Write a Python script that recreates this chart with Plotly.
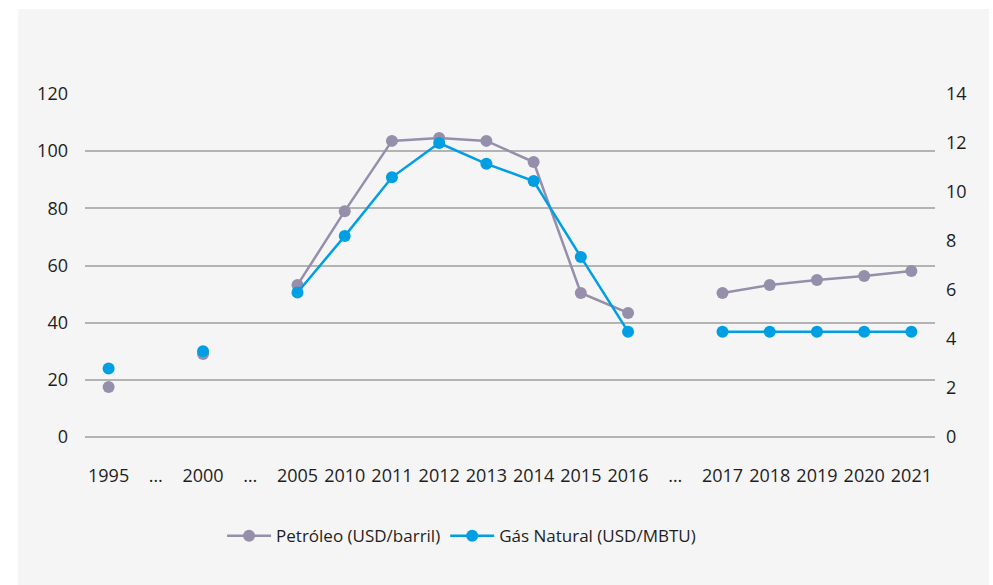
import plotly.graph_objects as go

categories = ["1995", "…", "2000", "…", "2005", "2010", "2011", "2012", "2013",
              "2014", "2015", "2016", "…", "2017", "2018", "2019", "2020", "2021"]
petroleo = [17.5, None, 29, None, 53.2, 79, 103.6, 104.6, 103.6, 96.2, 50.4, 43.4,
            None, 50.4, 53.2, 54.9, 56.3, 58.1]
gas = [2.8, None, 3.5, None, 5.9, 8.2, 10.6, 12.0, 11.15, 10.45, 7.35, 4.3,
       None, 4.3, 4.3, 4.3, 4.3, 4.3]
left_ticks = [0, 20, 40, 60, 80, 100, 120]
right_ticks = [0, 2, 4, 6, 8, 10, 12, 14]

x_pos = list(range(len(categories)))
FONT = "Open Sans"
TXT = "#1e1e1e"

fig = go.Figure()
fig.add_trace(go.Scatter(
    x=x_pos, y=petroleo, name="Petróleo (USD/barril)", mode="lines+markers",
    line=dict(color="#958fac", width=2.5), marker=dict(size=12, color="#958fac"),
    connectgaps=False, yaxis="y"))
fig.add_trace(go.Scatter(
    x=x_pos, y=gas, name="Gás Natural (USD/MBTU)", mode="lines+markers",
    line=dict(color="#009fe3", width=2.5), marker=dict(size=12, color="#009fe3"),
    connectgaps=False, yaxis="y2"))

fig.update_layout(
    width=993, height=585,
    margin=dict(l=85, r=58, t=94, b=148),
    paper_bgcolor="white", plot_bgcolor="rgba(0,0,0,0)",
    font=dict(family=FONT, size=18, color=TXT),
    showlegend=True,
    legend=dict(orientation="h", x=0.443, xanchor="center", y=-0.289, yanchor="middle",
                font=dict(size=17, color=TXT), bgcolor="rgba(0,0,0,0)",
                itemwidth=44),
    xaxis=dict(tickmode="array", tickvals=x_pos, ticktext=categories,
               range=[-0.5, len(categories) - 0.5], showgrid=False, zeroline=False,
               showline=False, ticks="", ticklabelstandoff=26,
               tickfont=dict(size=18, color=TXT)),
    yaxis=dict(range=[0, 120], tickvals=left_ticks, showgrid=True,
               gridcolor="#b3b3b3", gridwidth=1.5, zeroline=True,
               zerolinecolor="#b3b3b3", zerolinewidth=1.5, showline=False,
               ticks="", ticklabelstandoff=16, tickfont=dict(size=18, color=TXT)),
    yaxis2=dict(range=[0, 14], tickvals=right_ticks, overlaying="y", side="right",
                showgrid=False, zeroline=False, showline=False, ticks="",
                ticklabelstandoff=10, tickfont=dict(size=18, color=TXT)),
    shapes=[dict(type="rect", xref="paper", yref="paper",
                 x0=(18 - 85) / 850, x1=(989 - 85) / 850,
                 y0=(437 - 590) / 343, y1=(437 - 9) / 343,
                 fillcolor="#f5f5f5", line=dict(width=0), layer="below")],
)

fig.write_html("out.html", config={"displayModeBar": False},
               post_script="document.body.style.margin='0';")
